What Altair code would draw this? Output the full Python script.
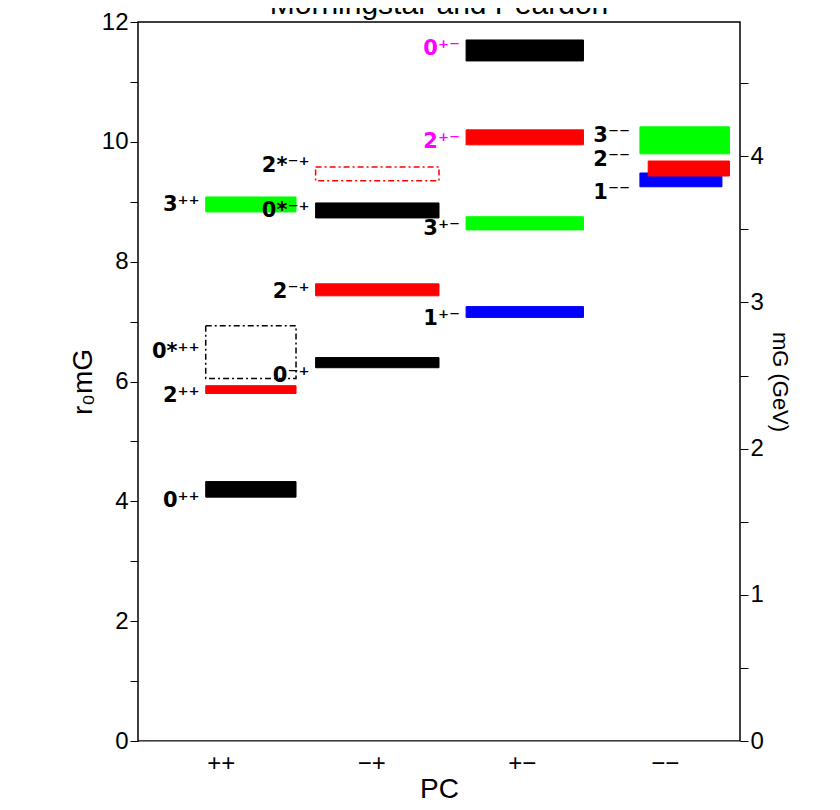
import altair as alt
import pandas as pd

states = ["0⁺⁺", "2⁺⁺", "0*⁺⁺", "3⁺⁺",
          "0⁻⁺", "2⁻⁺", "0*⁻⁺", "2*⁻⁺",
          "1⁺⁻", "3⁺⁻", "2⁺⁻", "0⁺⁻",
          "1⁻⁻", "2⁻⁻", "3⁻⁻"]
lo = [4.07, 5.80, 6.05, 8.83, 6.23, 7.43, 8.73, 9.35, 7.07, 8.53, 9.95, 11.35, 9.25, 9.43, 9.80]
hi = [4.33, 5.93, 6.93, 9.08, 6.40, 7.63, 8.98, 9.58, 7.25, 8.75, 10.20, 11.70, 9.48, 9.68, 10.25]
x0 = [0.45, 0.45, 0.45, 0.45, 1.18, 1.18, 1.18, 1.18, 2.18, 2.18, 2.18, 2.18, 3.335, 3.39, 3.335]
x1 = [1.05, 1.05, 1.05, 1.05, 2.0, 2.0, 2.0, 2.0, 2.96, 2.96, 2.96, 2.96, 3.88, 3.93, 3.93]
fill = ["#000000", "#ff0000", "none", "#00ff00", "#000000", "#ff0000", "#000000", "none",
        "#0000ff", "#00ff00", "#ff0000", "#000000", "#0000ff", "#ff0000", "#00ff00"]
stroke = ["#000000", "#ff0000", "#000000", "#00ff00", "#000000", "#ff0000", "#000000", "#ff0000",
          "#0000ff", "#00ff00", "#ff0000", "#000000", "#0000ff", "#ff0000", "#00ff00"]
labx = [0.41, 0.41, 0.41, 0.41, 1.14, 1.14, 1.14, 1.14, 2.14, 2.14, 2.14, 2.14, 3.27, 3.27, 3.27]
laby = [4.0, 5.75, 6.5, 8.95, 6.1, 7.5, 8.85, 9.6, 7.05, 8.55, 10.0, 11.55, 9.15, 9.7, 10.1]
labcol = ["#000000"] * 10 + ["#ff00ff", "#ff00ff"] + ["#000000"] * 3
cats = ["++", "−+", "+−", "−−"]
catpos = [0.55, 1.55, 2.55, 3.5]
gev_per_r0 = 1 / 2.44

df = pd.DataFrame(dict(state=states, lo=lo, hi=hi, x0=x0, x1=x1, fill=fill, stroke=stroke,
                       labx=labx, laby=laby, labcol=labcol))
dashed = df[df.fill == "none"]
solid = df[df.fill != "none"]

xs = alt.Scale(domain=[0, 4])
ys = alt.Scale(domain=[0, 12])
lab_expr = "datum.value < 1 ? '++' : datum.value < 2 ? '−+' : datum.value < 3 ? '+−' : '−−'"
xax = alt.Axis(values=catpos, labelExpr=lab_expr, title="PC", labelFontSize=24, titleFontSize=28,
               grid=False, ticks=False, labelPadding=10, titleFont="Liberation Sans",
               labelFont="Liberation Sans", titleFontWeight="normal", labelColor="black",
               titleColor="black", titlePadding=0)
yax = alt.Axis(values=list(range(13)), labelExpr="datum.value % 2 == 0 ? datum.value : ''",
               title="r₀mG", labelFontSize=24, titleFontSize=28, grid=False, tickSize=8,
               labelFont="Liberation Sans", titleFont="Liberation Sans", titleFontWeight="normal",
               domain=False, labelColor="black", titleColor="black", tickColor="black")

bars = alt.Chart(solid).mark_rect(strokeWidth=1).encode(
    x=alt.X("x0:Q", scale=xs, axis=xax), x2="x1", y=alt.Y("lo:Q", scale=ys, axis=yax), y2="hi",
    color=alt.Color("fill:N", scale=None), stroke=alt.Stroke("stroke:N", scale=None))
boxes = alt.Chart(dashed).mark_rect(fill=None, strokeWidth=1.5, strokeDash=[6, 3, 2, 3]).encode(
    x=alt.X("x0:Q", scale=xs), x2="x1", y=alt.Y("lo:Q", scale=ys), y2="hi",
    stroke=alt.Stroke("stroke:N", scale=None))
labels = alt.Chart(df).mark_text(align="right", baseline="middle", fontSize=21, fontWeight="bold",
                                  font="DejaVu Sans").encode(
    x=alt.X("labx:Q", scale=xs), y=alt.Y("laby:Q", scale=ys), text="state:N",
    color=alt.Color("labcol:N", scale=None))

gdf = pd.DataFrame(dict(g=[0.0, 4.0]))
title = alt.Chart(gdf.head(1)).mark_text(fontSize=30, font="Liberation Sans", baseline="bottom").encode(
    x=alt.value(301), y=alt.value(-2), text=alt.value("Morningstar and Peardon"))

main = alt.layer(bars, boxes, labels, title)

right = alt.Chart(gdf).mark_point(opacity=0).encode(
    y=alt.Y("g:Q", scale=alt.Scale(domain=[0, 12 * gev_per_r0], nice=False),
            axis=alt.Axis(orient="right", values=[i * 0.5 for i in range(10)],
                          labelExpr="datum.value % 1 == 0 ? datum.value : ''",
                          title="mG (GeV)", labelFontSize=24, titleFontSize=22, grid=False, tickSize=8,
                          labelFont="Liberation Sans", titleFont="Liberation Sans",
                          titleFontWeight="normal", domain=False, labelColor="black",
                          titleColor="black", tickColor="black")))

chart = alt.layer(main, right).resolve_scale(y="independent").properties(
    width=602, height=719, autosize=alt.AutoSizeParams(type="none"),
    padding={"left": 130, "top": 14, "right": 90, "bottom": 60}
).configure_view(stroke="black", strokeWidth=1.5)

chart.save("out.html", embed_options={"renderer": "svg", "actions": False})
